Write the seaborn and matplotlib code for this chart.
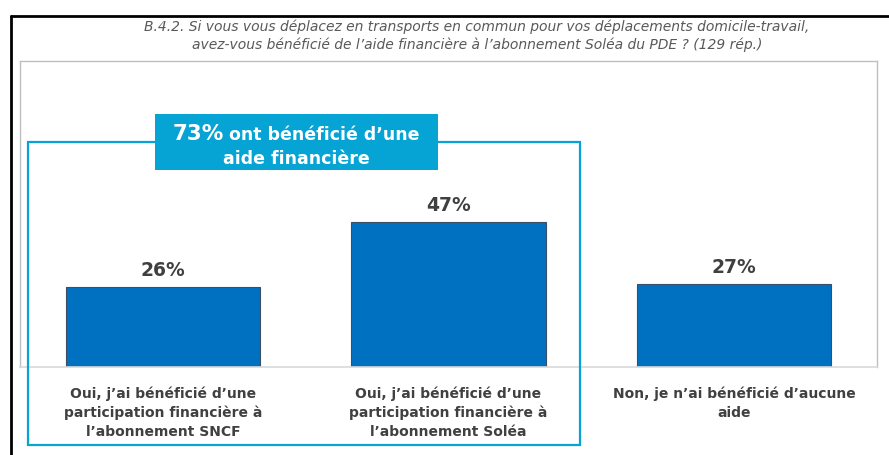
import matplotlib
matplotlib.use("Agg")
import matplotlib.pyplot as plt
import seaborn as sns
import pandas as pd
from matplotlib.patches import Rectangle
from matplotlib.lines import Line2D

# ---- data ----
categories = [
    "Oui, j\u2019ai bénéficié d\u2019une\nparticipation financière à\nl\u2019abonnement SNCF",
    "Oui, j\u2019ai bénéficié d\u2019une\nparticipation financière à\nl\u2019abonnement Soléa",
    "Non, je n\u2019ai bénéficié d\u2019aucune\naide",
]
shares = [26, 47, 27]
title_lines = [
    "B.4.2. Si vous vous déplacez en transports en commun pour vos déplacements domicile-travail,",
    "avez-vous bénéficié de l\u2019aide financière à l\u2019abonnement Soléa du PDE ? (129 rép.)",
]
callout_rest = " ont bénéficié d\u2019une"
callout_line2 = "aide financière"

df = pd.DataFrame({"cat": categories, "share": shares})

sns.set_style("white")
plt.rcParams['font.family'] = ['DejaVu Sans']

W, H = 889, 456
fig = plt.figure(figsize=(W / 100, H / 100), dpi=100)


def px(x, y):
    # pixel position (from top-left) -> figure fraction
    return x / W, 1 - y / H


# plot area: x 20..877, y 62..368
ax = fig.add_axes([20 / W, 1 - 368 / H, 857 / W, 306 / H])
sns.barplot(data=df, x="cat", y="share", color="#0070C0", width=0.68,
            edgecolor="#3A4F66", linewidth=0.8, saturation=1, ax=ax)
ax.set_ylim(0, 99.4)
ax.set_xlim(-0.5, 2.5)
ax.set_yticks([])
ax.set_xlabel("")
ax.set_ylabel("")
for s in ["left", "top", "right"]:
    ax.spines[s].set_color("#BFBFBF")
    ax.spines[s].set_linewidth(1)
ax.spines["bottom"].set_color("#D9D9D9")
ax.spines["bottom"].set_linewidth(1.2)
ax.tick_params(axis="x", length=0, pad=13)
for lab in ax.get_xticklabels():
    lab.set_fontweight("bold")
    lab.set_fontsize(10)
    lab.set_color("#404040")
    lab.set_linespacing(1.45)

ax.bar_label(ax.containers[0], labels=[f"{v}%" for v in shares], padding=6,
             fontsize=13.5, fontweight="bold", color="#404040")

# title
fig.text(*px(477, 27), title_lines[0], ha="center", va="center", style="italic",
         fontsize=10, color="#595959")
fig.text(*px(477, 45), title_lines[1], ha="center", va="center", style="italic",
         fontsize=10, color="#595959")

# outer black frame (left and top)
fig.add_artist(Line2D([px(11, 0)[0]] * 2, [px(0, 17)[1], 0], color="black", lw=2,
                      transform=fig.transFigure))
fig.add_artist(Line2D([px(11, 0)[0], 1], [px(0, 17)[1]] * 2, color="black", lw=2,
                      transform=fig.transFigure))

# cyan outline around the two "Oui" answers
cyan = "#06A3D5"
x0, y0 = px(28, 446)
x1, y1 = px(580, 143)
fig.add_artist(Rectangle((x0, y0), x1 - x0, y1 - y0, fill=False, edgecolor=cyan,
                         lw=1.6, transform=fig.transFigure, zorder=5))

# filled callout box
bx0, by0 = px(155, 171)
bx1, by1 = px(438, 115)
fig.add_artist(Rectangle((bx0, by0), bx1 - bx0, by1 - by0, facecolor=cyan,
                         edgecolor="none", transform=fig.transFigure, zorder=6))

total = shares[0] + shares[1]
t1 = fig.text(0, 0, f"{total}%", fontsize=15.5, fontweight="bold", color="white",
              va="baseline", zorder=7)
t2 = fig.text(0, 0, callout_rest, fontsize=12.5, fontweight="bold", color="white",
              va="baseline", zorder=7)
fig.canvas.draw()
r = fig.canvas.get_renderer()
w1 = t1.get_window_extent(r).width
w2 = t2.get_window_extent(r).width
start = 296 - (w1 + w2) / 2
t1.set_position(px(start, 140))
t2.set_position(px(start + w1, 140))
fig.text(*px(296, 164), callout_line2, fontsize=12.5, fontweight="bold",
         color="white", ha="center", va="baseline", zorder=7)

fig.savefig("out.png", dpi=100)
